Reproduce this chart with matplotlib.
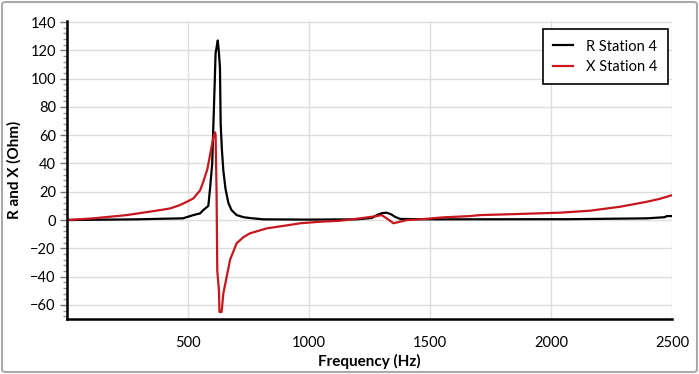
import matplotlib
matplotlib.use("Agg")
import matplotlib.pyplot as plt
from matplotlib.patches import FancyBboxPatch
from matplotlib.ticker import MultipleLocator

plt.rcParams['font.family'] = ['Lato', 'DejaVu Sans']

# Data
r_freq = [0, 288, 420, 479, 522, 550, 563, 584, 591, 600, 605, 610, 614, 620, 623,
          627, 632, 635, 640, 646, 655, 667, 680, 701, 730, 756, 810, 1000, 1200,
          1260, 1280, 1300, 1321, 1340, 1355, 1376, 1500, 2079, 2395, 2470, 2478, 2500]
r_vals = [0, 0.5, 1.0, 1.2, 3.5, 4.7, 7, 10, 22, 40, 68, 95, 118, 124, 127,
          120, 108, 68, 50, 35, 22, 12, 7, 3.5, 2, 1.4, 0.5, 0.3, 0.5,
          1.5, 3.5, 4.8, 5.2, 4, 2.3, 0.8, 0.5, 0.6, 1.2, 2.0, 2.8, 2.8]

x_freq = [0, 109, 247, 384, 426, 467, 508, 522, 550, 563, 580, 591, 600, 605, 612,
          614, 618, 621, 628, 630, 639, 646, 660, 674, 701, 730, 756, 825, 900,
          963, 1045, 1128, 1211, 1280, 1300, 1321, 1349, 1376, 1404, 1459, 1555,
          1665, 1707, 1850, 2037, 2161, 2285, 2395, 2450, 2500]
x_vals = [0, 1.2, 3.5, 7, 8.2, 10.6, 14, 15.3, 21, 27, 36, 46, 54, 58.7, 62,
          60, 20, -36, -50, -65, -65, -52, -40, -28, -16.4, -12, -9.4, -5.9, -4,
          -2.3, -1.2, -0.5, 1.2, 2.8, 3.5, 1.2, -2.3, -1.2, 0, 0.5, 1.9,
          2.8, 3.5, 4.2, 5.2, 6.6, 9.4, 12.9, 15, 17.6]

x_ticks = [500, 1000, 1500, 2000, 2500]
y_ticks = [-60, -40, -20, 0, 20, 40, 60, 80, 100, 120, 140]

fig = plt.figure(figsize=(6.99, 3.74), dpi=100)
ax = fig.add_axes([67/699, 1-319/374, (672-67)/699, (319-20.7)/374])

ax.plot(r_freq, r_vals, color='black', lw=1.6, label='R Station 4')
ax.plot(x_freq, x_vals, color='#c8161d', lw=1.6, label='X Station 4')

ax.set_xlim(0, 2500)
ax.set_ylim(-70, 141)
ax.set_xticks(x_ticks)
ax.set_yticks(y_ticks)
ax.yaxis.set_minor_locator(MultipleLocator(4))
ax.grid(True, color='#dddddd', lw=1)
ax.set_axisbelow(True)

for s in ['top', 'right']:
    ax.spines[s].set_visible(False)
for s in ['left', 'bottom']:
    ax.spines[s].set_linewidth(1.8)
    ax.spines[s].set_color('black')

ax.tick_params(axis='y', which='major', length=5, width=1, color='#777777',
               labelsize=10.5, pad=3)
ax.tick_params(axis='y', which='minor', length=3, width=1, color='#999999')
ax.tick_params(axis='x', which='major', length=0, labelsize=10.5, pad=12)

ax.set_xlabel('Frequency (Hz)', fontsize=11, fontweight='bold', labelpad=3)
ax.set_ylabel('R and X (Ohm)', fontsize=11, fontweight='bold', labelpad=6)

leg = ax.legend(loc='upper right', bbox_to_anchor=(1 - 4/605, 1 - 8.6/298.3),
                frameon=True, fancybox=False, framealpha=1, edgecolor='black',
                fontsize=10.5, handlelength=1.4, labelspacing=0.45,
                borderpad=0.7, handletextpad=0.9, borderaxespad=0)
leg.get_frame().set_linewidth(1.2)

border = FancyBboxPatch((2/699, 2/374), 695/699, 370/374,
                        boxstyle='round,pad=0,rounding_size=0.006',
                        transform=fig.transFigure, facecolor='none',
                        edgecolor='#aaaaaa', lw=1.5)
fig.patches.append(border)

fig.savefig('out.png', dpi=100)
